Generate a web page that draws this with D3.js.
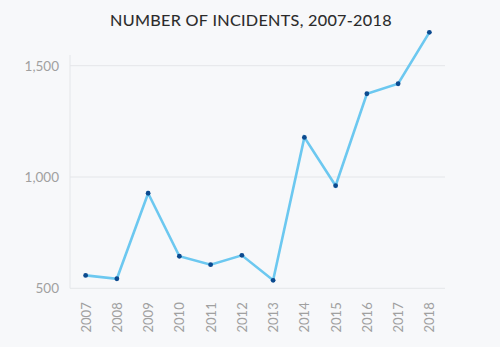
<!DOCTYPE html>
<html><head><meta charset="utf-8">
<script src="https://cdn.jsdelivr.net/npm/d3@7"></script>
<style>
html,body{margin:0;padding:0;background:#f7f8fa;}
svg{display:block;}
</style></head>
<body>
<svg id="chart" width="500" height="347"></svg>
<script>
const years = ["2007","2008","2009","2010","2011","2012","2013","2014","2015","2016","2017","2018"];
const incidents = [558, 543, 927, 644, 606, 648, 536, 1178, 961, 1374, 1419, 1650];
const yTicks = [500, 1000, 1500];
const title = "NUMBER OF INCIDENTS, 2007-2018";

(function(){
const svg = d3.select("#chart");
svg.append("rect").attr("width",500).attr("height",347).attr("fill","#f7f8fa");

const mLeft = 70, mRight = 445, mBottom = 288.3, mTop = 65.7;
const x = d3.scalePoint().domain(years).range([mLeft, mRight]).padding(0.5);
const y = d3.scaleLinear().domain([500, 1500]).range([mBottom, mTop]);

svg.append("text").attr("x",251).attr("y",26).attr("text-anchor","middle")
  .attr("font-family","Lato, 'Open Sans', sans-serif").attr("font-size",16.2)
  .attr("fill","#2a2a2a").attr("stroke","#2a2a2a").attr("stroke-width",0.1)
  .attr("letter-spacing","0.3").text(title);

svg.append("g").selectAll("line").data(yTicks).join("line")
  .attr("x1",mLeft).attr("x2",mRight).attr("y1",d=>y(d)).attr("y2",d=>y(d))
  .attr("stroke","#e4e6e9").attr("stroke-width",1);
svg.append("line").attr("x1",mLeft).attr("x2",mLeft).attr("y1",55).attr("y2",mBottom)
  .attr("stroke","#e4e6e9").attr("stroke-width",1);

const yAxis = d3.axisLeft(y).tickValues(yTicks).tickFormat(d3.format(",")).tickSize(0).tickPadding(11);
const ga = svg.append("g").attr("transform",`translate(${mLeft},0)`).call(yAxis);
ga.select(".domain").remove();
ga.selectAll("text").attr("font-family","Lato, 'Open Sans', sans-serif").attr("font-size",13.5).attr("fill","#a0a0a0");

const xAxis = d3.axisBottom(x).tickSize(0).tickPadding(0);
const gx = svg.append("g").attr("transform",`translate(0,${mBottom})`).call(xAxis);
gx.select(".domain").remove();
gx.selectAll("text").attr("font-family","Lato, 'Open Sans', sans-serif").attr("font-size",13).attr("fill","#a0a0a0")
  .attr("transform","rotate(-90)").attr("text-anchor","end").attr("x",-14).attr("y",0).attr("dy","0.35em");

const line = d3.line().x((d,i)=>x(years[i])).y(d=>y(d));
svg.append("path").datum(incidents).attr("d",line).attr("fill","none")
  .attr("stroke","#6cc8f0").attr("stroke-width",2.6).attr("stroke-linejoin","miter");
svg.append("g").selectAll("circle").data(incidents).join("circle")
  .attr("cx",(d,i)=>x(years[i])).attr("cy",d=>y(d)).attr("r",2.4).attr("fill","#0b4a8f");
})();
</script>
</body></html>
